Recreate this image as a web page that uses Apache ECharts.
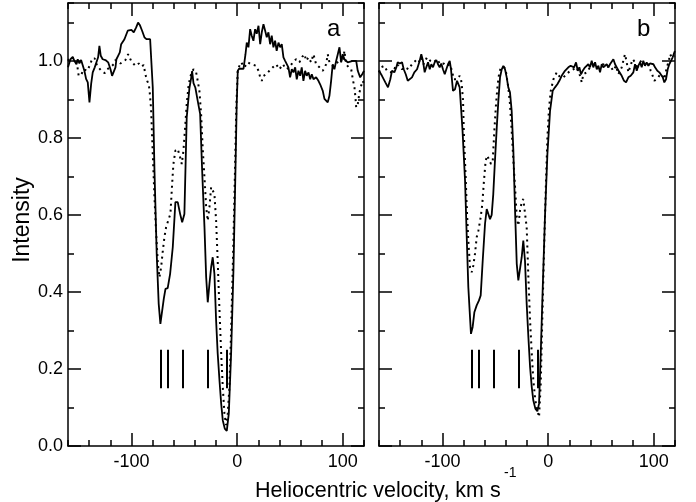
<!DOCTYPE html>
<html>
<head>
<meta charset="utf-8">
<script src="https://cdn.jsdelivr.net/npm/echarts@6/dist/echarts.min.js"></script>
<style>
  html, body { margin: 0; padding: 0; background: #fff; }
  #chart { width: 696px; height: 502px; }
</style>
</head>
<body>
<div id="chart"></div>
<script>
// panel a, solid spectrum [velocity, intensity]
const solidA = [
  [-160,0.983],[-157.7,1.004],[-155.5,1.010],[-154,1.0],[-152,0.991],[-150.8,1.004],[-149.2,0.993],
  [-147.6,1.002],[-146,0.988],[-144.5,0.974],[-142.9,0.953],[-141.3,0.944],[-139.7,0.892],[-138.1,0.94],
  [-136.6,0.970],[-134.7,0.983],[-133,0.978],[-131.5,1.009],[-130.3,1.039],[-129,1.013],[-127.2,1.004],
  [-124.6,1.002],[-122,0.996],[-119.8,0.978],[-118.3,0.961],[-116.7,0.957],[-115.1,0.983],[-114.2,1.004],
  [-112.6,1.013],[-111,1.022],[-109.7,1.043],[-107.9,1.047],[-106.6,1.056],[-105,1.052],[-103.5,1.078],
  [-101.9,1.076],[-100,1.08],[-97.8,1.074],[-95.6,1.086],[-93.7,1.099],[-92.1,1.093],[-89.9,1.078],
  [-87.7,1.061],[-85.8,1.056],[-84.2,1.061],[-82.3,1.056],[-81.1,1.052],[-79.8,0.93],[-78.2,0.715],
  [-76.1,0.499],[-74.2,0.369],[-72.6,0.317],[-71,0.32],[-69.4,0.382],[-67.8,0.408],[-65.7,0.41],
  [-63.4,0.447],[-60.9,0.516],[-58.4,0.633],[-56.2,0.633],[-53.9,0.602],[-52,0.581],[-49.9,0.602],
  [-47.7,0.853],[-45.1,0.93],[-43.5,0.955],[-42.6,0.973],[-41.3,0.942],[-39.5,0.93],[-37.3,0.896],
  [-35,0.862],[-33.1,0.715],[-30.9,0.568],[-29.3,0.438],[-27.8,0.373],[-26.2,0.421],[-24.6,0.464],
  [-23.1,0.49],[-21.5,0.447],[-19.9,0.326],[-18.4,0.24],[-16.7,0.17],[-15.1,0.11],[-13.6,0.067],
  [-11.7,0.045],[-9.8,0.039],[-7.9,0.084],[-5.7,0.24],[-3.5,0.456],[-1.6,0.715],[-0.4,0.888],
  [0.6,0.974],[2,0.98],[3.8,0.983],[6,0.979],[7.9,1.017],[9.1,1.047],[10.7,1.035],[12.3,1.082],
  [13.8,1.065],[15.4,1.052],[17,1.082],[18.5,1.07],[20.2,1.091],[21.8,1.043],[23.3,1.074],[24.9,1.095],
  [26.5,1.078],[28,1.061],[29.6,1.074],[31.2,1.043],[32.7,1.065],[34.3,1.035],[35.9,1.052],[37.4,1.026],
  [39.1,1.047],[40.7,1.035],[42.2,1.043],[43.8,1.009],[45.4,1.0],[46.9,0.996],[48.5,0.983],[50.1,0.957],
  [51.7,0.978],[53.3,0.970],[54.9,0.983],[56.4,0.952],[58,0.974],[59.6,0.961],[61.1,0.983],[62.7,0.948],
  [64.3,0.974],[65.8,0.961],[67.5,0.970],[69.1,0.952],[70.6,0.965],[72.2,0.952],[74.7,0.957],[76.9,0.948],
  [78.5,0.939],[81,0.922],[82.6,0.901],[84.2,0.903],[85.7,0.892],[87.3,0.909],[88.9,0.948],[90.4,0.991],
  [92,0.978],[93.7,1.0],[95.2,1.017],[96.8,1.035],[98.4,0.996],[99.9,1.017],[101.5,1.004],[103.1,1.0],
  [104.6,0.996],[106.2,1.0],[109.4,1.0],[112.6,1.0],[114.1,0.974],[116.4,0.957],[118.3,0.965],[120,0.974]
];

// panel a, dotted spectrum
const dottedA = [
  [-160,1.0],[-157.7,1.01],[-154.6,1.006],[-151.4,0.991],[-149.9,0.961],[-147.3,0.965],[-145.1,0.978],
  [-141.9,0.974],[-138.8,0.991],[-137.2,1.006],[-134.7,1.006],[-132.5,0.987],[-130.9,0.991],[-128.4,0.974],
  [-125.3,0.968],[-123,0.978],[-119.9,0.983],[-116.8,0.991],[-115.1,1.002],[-110.4,0.993],[-105.7,1.002],
  [-103.1,1.017],[-101.6,1.013],[-100,0.998],[-96.2,0.987],[-93.1,0.993],[-90.5,0.985],[-88.4,0.989],
  [-86.8,0.965],[-85.1,0.948],[-83.6,0.939],[-82.7,0.918],[-81.4,0.875],[-79.8,0.758],[-78.2,0.646],
  [-76.6,0.551],[-75,0.473],[-73.5,0.438],[-71.9,0.464],[-70.3,0.507],[-68.8,0.542],[-67.2,0.568],
  [-65.7,0.581],[-63.1,0.603],[-61.5,0.68],[-60.3,0.732],[-58.4,0.767],[-56.2,0.771],[-53.9,0.749],
  [-52.4,0.732],[-50.8,0.767],[-49.2,0.827],[-47.7,0.888],[-45.8,0.94],[-43.5,0.966],[-41.3,0.978],
  [-38.8,0.97],[-37.3,0.948],[-35.7,0.922],[-34.1,0.862],[-32.6,0.775],[-30.9,0.697],[-29.3,0.62],
  [-27.8,0.585],[-26.2,0.62],[-24.6,0.672],[-23.1,0.676],[-21.5,0.654],[-19.9,0.585],[-18.4,0.481],
  [-16.7,0.352],[-15.1,0.24],[-13.6,0.153],[-12,0.084],[-10.4,0.054],[-8.9,0.084],[-7.3,0.153],
  [-5.7,0.3],[-3.8,0.5],[-2,0.72],[-0.8,0.88],[0.6,0.978],[3.8,0.996],[6.9,0.983],[10,0.996],
  [13.2,0.991],[18,0.987],[20.2,0.974],[21.8,0.957],[23.3,0.948],[24.9,0.961],[27.4,0.965],[30.5,0.974],
  [33.7,0.983],[36.9,0.991],[40,0.978],[43.2,0.991],[46.4,0.978],[49.5,0.983],[52.6,0.996],[55.8,1.004],
  [58.9,0.996],[61.5,1.01],[63.7,1.017],[65.3,1.0],[67.5,1.009],[70,0.996],[72.2,1.017],[74.7,0.991],
  [77.9,0.983],[81,0.974],[84.2,0.991],[85.7,1.017],[87.3,0.996],[90.4,0.987],[93.7,0.991],[96.8,1.004],
  [99.9,0.996],[101.5,1.026],[103.1,0.991],[105.6,0.983],[107.9,0.978],[109.4,0.952],[111,0.93],
  [111.9,0.905],[112.6,0.879],[114.1,0.887],[115.7,0.918],[117.3,0.935],[118.8,0.948],[120,0.94]
];

// panel b, solid spectrum
const solidB = [
  [-160,0.974],[-157.2,0.961],[-154,0.944],[-151.5,0.931],[-149.3,0.952],[-147.7,0.974],[-145.5,0.970],
  [-143.6,0.983],[-142.3,0.996],[-140.4,0.993],[-138.2,0.996],[-136.6,0.978],[-134.7,0.965],[-132.8,0.948],
  [-131,0.944],[-128.8,0.957],[-126.6,0.970],[-124,0.978],[-121.5,1.0],[-120,1.017],[-118.4,1.0],
  [-116.8,0.970],[-115.3,0.983],[-113.6,0.996],[-112,0.978],[-110.5,0.991],[-108.9,0.983],[-107.3,0.996],
  [-105.8,1.002],[-104.2,0.991],[-102.6,0.983],[-101.1,0.993],[-99.5,0.978],[-97.8,0.965],[-96.3,0.978],
  [-94.7,0.991],[-93.1,1.0],[-91.9,0.978],[-90,0.922],[-88.1,0.926],[-86.2,0.948],[-84.6,0.952],
  [-83.7,0.931],[-82.4,0.879],[-81,0.82],[-78.6,0.689],[-77,0.542],[-75.5,0.412],[-73.9,0.334],
  [-73,0.291],[-71.4,0.309],[-69.8,0.347],[-67.6,0.365],[-65.4,0.378],[-63.8,0.391],[-61.9,0.481],
  [-59.7,0.577],[-58.1,0.615],[-56.6,0.619],[-55,0.589],[-53.4,0.6],[-51.9,0.654],[-50.3,0.741],
  [-48.6,0.827],[-47.1,0.896],[-45.5,0.957],[-43.9,0.978],[-42.4,0.987],[-40.8,0.978],[-39.2,0.957],
  [-37.7,0.931],[-36.1,0.918],[-34.5,0.870],[-32.9,0.767],[-31.3,0.611],[-29.7,0.473],[-28.2,0.43],
  [-26.6,0.426],[-25,0.49],[-23.5,0.533],[-21.9,0.481],[-20.3,0.369],[-18.7,0.283],[-17.1,0.205],
  [-15.5,0.153],[-14,0.118],[-12.1,0.097],[-10.2,0.09],[-8.6,0.11],[-7,0.24],[-5.1,0.412],[-2.9,0.603],
  [-0.7,0.758],[1.8,0.870],[4.3,0.922],[6.5,0.931],[8.7,0.939],[10.6,0.948],[12.8,0.961],[15.9,0.974],
  [19.1,0.983],[21.3,0.987],[22.9,0.991],[24.5,0.983],[26.4,0.996],[28,0.974],[29.5,0.983],[31.1,0.965],
  [32.7,0.974],[34.9,0.983],[36.5,0.978],[38,0.991],[39.6,0.983],[41.2,1.0],[42.7,0.983],[44.4,0.996],
  [46,0.978],[47.5,0.987],[49.1,0.970],[50.7,0.991],[52.2,0.983],[53.8,0.987],[55.4,0.991],[57,0.983],
  [58.5,0.991],[60.1,0.996],[61.7,1.004],[63.3,0.991],[64.9,0.983],[66.5,0.975],[69.6,0.961],[71.8,0.948],
  [73.7,0.944],[75.9,0.957],[78.1,0.961],[80.6,0.970],[82.2,0.991],[83.8,0.974],[85.3,0.987],[86.9,0.996],
  [88.5,0.983],[90,1.0],[91.6,0.987],[93.2,0.996],[94.8,0.987],[96.3,0.993],[98,0.996],[99.6,0.991],
  [101.1,0.983],[103.3,0.974],[105.2,0.970],[106.8,0.965],[108.4,0.957],[109.9,0.944],[111.5,0.952],
  [113.1,0.978],[114.6,0.991],[116.2,1.0],[117.8,1.009],[119.4,1.022],[120,1.025]
];

// panel b, dotted spectrum
const dottedB = [
  [-160,0.97],[-158.1,0.983],[-155,0.987],[-152.4,0.974],[-148.6,0.970],[-146.1,0.974],[-143.6,0.991],
  [-141.4,0.987],[-138.2,0.978],[-135.1,0.983],[-131.9,0.978],[-128.8,0.991],[-124.7,1.002],[-122.5,0.996],
  [-120,1.009],[-117.8,0.991],[-114.6,1.009],[-113,1.013],[-111.5,1.0],[-108.3,0.996],[-105.1,1.004],
  [-102,0.991],[-98.8,0.993],[-95.7,0.987],[-93.1,0.991],[-90.9,0.974],[-89.3,0.952],[-86.2,0.952],
  [-83.7,0.961],[-82.4,0.952],[-81.5,0.931],[-80.5,0.896],[-79.6,0.801],[-78,0.698],[-77,0.62],
  [-75.5,0.533],[-73.9,0.464],[-72.3,0.451],[-70.8,0.468],[-69.2,0.499],[-67.6,0.542],[-66,0.559],
  [-63.8,0.594],[-62.3,0.628],[-60.7,0.689],[-59.1,0.741],[-57.5,0.754],[-55.6,0.741],[-54,0.732],
  [-52.4,0.741],[-50.9,0.818],[-49.3,0.888],[-47.7,0.94],[-46.2,0.97],[-44.6,0.983],[-43,0.987],
  [-41.4,0.983],[-39.8,0.97],[-37.7,0.931],[-36.1,0.888],[-34.5,0.818],[-32.9,0.741],[-31.3,0.672],
  [-29.7,0.594],[-28.2,0.572],[-26.6,0.611],[-25,0.633],[-23.5,0.641],[-21.9,0.637],[-20.3,0.568],
  [-18.7,0.438],[-17.1,0.326],[-15.5,0.24],[-14,0.17],[-12.1,0.118],[-10.2,0.093],[-8.6,0.075],
  [-7,0.162],[-5.4,0.343],[-3.8,0.516],[-2.2,0.672],[-0.7,0.801],[0.9,0.879],[2.5,0.922],[5,0.952],
  [8.1,0.970],[11.3,0.957],[14.4,0.957],[17.6,0.965],[20.7,0.974],[23.9,0.978],[27,0.983],[30.2,0.961],
  [31.8,0.944],[33.3,0.965],[36.5,0.970],[39.6,0.983],[42.7,0.991],[46,0.983],[49.1,0.987],[52.2,0.991],
  [55.4,0.983],[58.5,0.987],[61.7,0.974],[64.2,0.987],[66.4,0.965],[69.6,0.983],[71.1,1.0],[72.7,1.017],
  [74.3,0.996],[75.9,0.970],[77.4,0.983],[80,1.004],[82.2,0.996],[84.3,0.978],[86.3,0.996],[88.5,1.0],
  [91.6,0.991],[94.8,0.996],[97,0.974],[98.9,0.961],[100.5,0.948],[102.1,0.944],[104.3,0.957],
  [105.9,0.965],[108.1,0.961],[109.9,0.952],[112.2,0.983],[113.8,0.996],[115.4,1.017],[116.9,1.009],
  [118.5,1.013],[120,1.012]
];

// velocity components (vertical bars)
const components = [-72.5, -65.7, -51.8, -27.7, -10.2];
const barRange = [0.15, 0.25];

const xMajor = [-100, 0, 100];
const yMajor = [0, 0.2, 0.4, 0.6, 0.8, 1.0];

const FONT = '"Liberation Sans", Arial, Helvetica, sans-serif';
const chart = echarts.init(document.getElementById('chart'));

function xAxes(grid, showLabels) {
  const base = { type: 'value', gridIndex: grid, min: -160, max: 120, interval: 20, splitLine: { show: false } };
  const mk = (pos, long, labels) => Object.assign({}, base, {
    position: pos,
    axisLine: { show: !long, onZero: false, lineStyle: { color: '#000', width: 1.5 } },
    axisTick: long
      ? { show: true, inside: true, length: 13, customValues: xMajor, lineStyle: { color: '#000', width: 1.5 } }
      : { show: true, inside: true, length: 6, lineStyle: { color: '#000', width: 1.5 } },
    axisLabel: labels
      ? { show: true, customValues: xMajor, color: '#000', fontSize: 18, fontFamily: FONT, margin: 7 }
      : { show: false }
  });
  return [mk('bottom', false, showLabels), mk('bottom', true, false), mk('top', false, false), mk('top', true, false)];
}

function yAxes(grid, showLabels) {
  const base = { type: 'value', gridIndex: grid, min: 0, max: 1.15, interval: 0.1, splitLine: { show: false } };
  const mk = (pos, long, labels) => Object.assign({}, base, {
    position: pos,
    axisLine: { show: !long, onZero: false, lineStyle: { color: '#000', width: 1.5 } },
    axisTick: long
      ? { show: true, inside: true, length: 13, customValues: yMajor, lineStyle: { color: '#000', width: 1.5 } }
      : { show: true, inside: true, length: 6, lineStyle: { color: '#000', width: 1.5 } },
    axisLabel: labels
      ? { show: true, customValues: yMajor, color: '#000', fontSize: 18, fontFamily: FONT, margin: 5,
          formatter: v => Number(v).toFixed(1) }
      : { show: false }
  });
  return [mk('left', false, showLabels), mk('left', true, false), mk('right', false, false), mk('right', true, false)];
}

function spectrum(data, axisIdx, dotted) {
  return {
    type: 'line',
    data: data,
    xAxisIndex: axisIdx,
    yAxisIndex: axisIdx,
    showSymbol: false,
    symbol: 'none',
    lineStyle: dotted
      ? { color: '#000', width: 2, type: [2, 4] }
      : { color: '#000', width: 1.8 },
    z: dotted ? 3 : 4
  };
}

function bars(axisIdx) {
  return {
    type: 'line',
    data: [],
    xAxisIndex: axisIdx,
    yAxisIndex: axisIdx,
    markLine: {
      silent: true,
      symbol: 'none',
      label: { show: false },
      lineStyle: { color: '#000', width: 2, type: 'solid' },
      data: components.map(v => [{ coord: [v, barRange[0]] }, { coord: [v, barRange[1]] }])
    }
  };
}

const option = {
  animation: false,
  backgroundColor: '#fff',
  grid: [
    { left: 68, top: 3, width: 296, height: 443 },
    { left: 379, top: 3, width: 296, height: 443 }
  ],
  xAxis: [...xAxes(0, true), ...xAxes(1, true)],
  yAxis: [...yAxes(0, true), ...yAxes(1, false)],
  series: [
    spectrum(dottedA, 0, true),
    spectrum(solidA, 0, false),
    bars(0),
    spectrum(dottedB, 4, true),
    spectrum(solidB, 4, false),
    bars(4)
  ],
  graphic: [
    { type: 'text', left: 327, top: 17, style: { text: 'a', fontSize: 24, fontFamily: FONT, fill: '#000' } },
    { type: 'text', left: 637, top: 17, style: { text: 'b', fontSize: 24, fontFamily: FONT, fill: '#000' } },
    { type: 'text', x: 23, y: 220, rotation: Math.PI / 2,
      style: { text: 'Intensity', fontSize: 23, fontFamily: FONT, fill: '#000', textAlign: 'center', textVerticalAlign: 'middle' } },
    { type: 'text', left: 255, top: 480,
      style: { text: 'Heliocentric velocity, km s', fontSize: 21.5, fontFamily: FONT, fill: '#000' } },
    { type: 'text', left: 504, top: 466,
      style: { text: '-1', fontSize: 14, fontFamily: FONT, fill: '#000' } }
  ]
};

chart.setOption(option);
window.addEventListener('resize', () => chart.resize());
</script>
</body>
</html>
